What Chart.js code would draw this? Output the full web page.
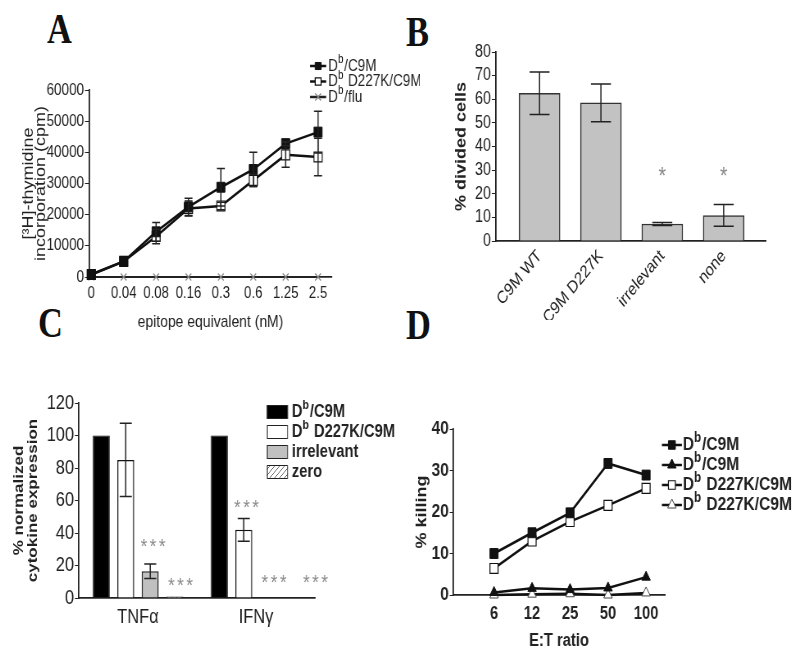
<!DOCTYPE html>
<html>
<head>
<meta charset="utf-8">
<script src="https://cdn.jsdelivr.net/npm/chart.js@4.4.0/dist/chart.umd.min.js"></script>
<style>
  body { margin: 0; background: #fff; width: 800px; height: 655px; position: relative; overflow: hidden; }
  canvas { position: absolute; }
  .letter { position: absolute; font-family: 'Liberation Serif', 'Times New Roman', serif; font-weight: bold;
            font-size: 42px; line-height: 1; color: #111; transform: scaleX(0.82); transform-origin: left top; }
</style>
</head>
<body>
<div class="letter" style="left:47px;top:8px">A</div>
<div class="letter" style="left:406px;top:11px">B</div>
<div class="letter" style="left:38px;top:302px">C</div>
<div class="letter" style="left:406px;top:304px">D</div>

<canvas id="chartA"></canvas>
<canvas id="chartB"></canvas>
<canvas id="chartC"></canvas>
<canvas id="chartD"></canvas>

<script>
"use strict";

// A - proliferation
const aDoses   = ['0', '0.04', '0.08', '0.16', '0.3', '0.6', '1.25', '2.5'];
const aYTicks  = [0, 10000, 20000, 30000, 40000, 50000, 60000];
const aC9M     = [800, 5000, 14500, 22500, 28800, 34500, 42800, 46500];
const aC9MErr  = [0, 0, 3000, 2800, 6000, 5500, 700, 6700];
const aD227K   = [800, 5000, 13000, 22000, 22800, 31000, 39200, 38500];
const aD227KErr = [0, 0, 2300, 2400, 1200, 2000, 4000, 6000];
const aFlu     = [0, 0, 0, 0, 0, 0, 0, 0];

// B - divided cells
const bCats   = ['C9M WT', 'C9M D227K', 'irrelevant', 'none'];
const bYTicks = [0, 10, 20, 30, 40, 50, 60, 70, 80];
const bValues = [62.5, 58.5, 7.2, 10.8];
const bErr    = [9, 8, 0.6, 4.6];
const bSig    = ['', '', '*', '*'];
const bSigAt  = [0, 0, 29, 29];

// C - cytokines
const cCats        = ['TNFα', 'IFNγ'];
const cYTicks      = [0, 20, 40, 60, 80, 100, 120];
const cC9M         = [100, 100];
const cD227K       = [85, 42];
const cD227KErr    = [22.5, 7];
const cD227KSig    = ['', '***'];
const cD227KSigAt  = [0, 58];
const cIrrelevant  = [16.5, 0];
const cIrrelevantErr = [4.5, 0];
const cIrrelevantSig = ['***', '***'];
const cIrrelevantSigAt = [34, 12];
const cZero        = [1, 0];
const cZeroSig     = ['***', '***'];
const cZeroSigAt   = [10, 12];

// D - killing
const dRatios    = ['6', '12', '25', '50', '100'];
const dYTicks    = [0, 10, 20, 30, 40];
const dC9M       = [10, 15, 19.8, 31.7, 28.9];
const dC9MCtrl   = [0.6, 1.6, 1.3, 1.7, 4.3];
const dD227K     = [6.4, 13, 17.7, 21.6, 25.7];
const dD227KCtrl = [0, 0.2, 0.3, 0, 0.5];

// the original figure is squeezed horizontally; draw wider and let CSS squeeze it
const K = 0.82;
const X = px => px / K;
const FONT = "'Liberation Sans', Arial, sans-serif";
const INK = '#222';

Chart.defaults.font.family = FONT;
Chart.defaults.color = INK;
Chart.defaults.animation = false;
Chart.defaults.plugins.legend.display = false;
Chart.defaults.plugins.tooltip.enabled = false;

function setupCanvas(id, left, top, w, h) {
    const c = document.getElementById(id);
    c.width = Math.round(X(w));
    c.height = h;
    c.style.left = left + 'px';
    c.style.top = top + 'px';
    c.style.width = w + 'px';
    c.style.height = h + 'px';
    return c;
}

const xy = arr => arr.map((v, i) => ({ x: i, y: v }));

// text with a superscript: "D^b/C9M"
function drawRich(ctx, text, x, y, font) {
    const parts = text.split('^');
    const base = `${font.weight} ${font.size}px ${FONT}`;
    const sup = `${font.weight} ${Math.round(font.size * 0.72)}px ${FONT}`;
    ctx.textBaseline = 'middle';
    ctx.textAlign = 'left';
    ctx.fillStyle = INK;
    parts.forEach((p, k) => {
        let rest = p;
        if (k > 0) {
            ctx.font = sup;
            ctx.fillText(p[0], x, y - font.size * 0.36);
            x += ctx.measureText(p[0]).width + 1;
            rest = p.slice(1);
        }
        ctx.font = base;
        ctx.fillText(rest, x, y);
        x += ctx.measureText(rest).width;
    });
}

const errorBars = {
    id: 'errorBars',
    afterDatasetsDraw(chart, args, o) {
        const ctx = chart.ctx;
        const ys = chart.scales.y;
        chart.data.datasets.forEach((ds, di) => {
            if (!ds.errorBars) return;
            const meta = chart.getDatasetMeta(di);
            ctx.save();
            ctx.strokeStyle = INK;
            ctx.lineWidth = o.lineWidth || 1.5;
            meta.data.forEach((el, i) => {
                const e = ds.errorBars[i];
                if (!e) return;
                const v = meta.controller.getParsed(i).y;
                const hi = ys.getPixelForValue(v + e);
                const lo = ys.getPixelForValue(v - e);
                const w = o.cap / 2;
                ctx.beginPath();
                ctx.moveTo(el.x, hi); ctx.lineTo(el.x, lo);
                ctx.moveTo(el.x - w, hi); ctx.lineTo(el.x + w, hi);
                ctx.moveTo(el.x - w, lo); ctx.lineTo(el.x + w, lo);
                ctx.stroke();
            });
            ctx.restore();
        });
    }
};

const sigMarks = {
    id: 'sigMarks',
    afterDatasetsDraw(chart, args, o) {
        const ctx = chart.ctx;
        const ys = chart.scales.y;
        chart.data.datasets.forEach((ds, di) => {
            if (!ds.sig) return;
            const meta = chart.getDatasetMeta(di);
            ctx.save();
            ctx.font = `${o.size}px ${FONT}`;
            ctx.fillStyle = '#8a8a8a';
            ctx.textAlign = 'center';
            ctx.textBaseline = 'middle';
            ctx.letterSpacing = (o.spacing || 0) + 'px';
            meta.data.forEach((el, i) => {
                if (!ds.sig[i]) return;
                const shift = (o.dx || 0) + (ds.sigShift ? ds.sigShift[i] : 0);
                ctx.fillText(ds.sig[i], el.x + shift, ys.getPixelForValue(ds.sigAt[i]) + o.size * 0.22);
            });
            ctx.restore();
        });
    }
};

const richLegend = {
    id: 'richLegend',
    afterDraw(chart, args, o) {
        const ctx = chart.ctx;
        ctx.save();
        chart.data.datasets.forEach((ds, i) => {
            const y = o.y + i * o.row;
            if (o.swatch === 'box') {
                ctx.fillStyle = ds.backgroundColor;
                ctx.fillRect(o.x, y - o.boxH / 2, o.boxW, o.boxH);
                ctx.strokeStyle = INK;
                ctx.lineWidth = 1;
                ctx.strokeRect(o.x + 0.5, y - o.boxH / 2 + 0.5, o.boxW - 1, o.boxH - 1);
            } else {
                ctx.strokeStyle = ds.borderColor;
                ctx.lineWidth = 2.5;
                ctx.beginPath();
                ctx.moveTo(o.x, y); ctx.lineTo(o.x + o.lineLen, y);
                ctx.stroke();
                ctx.fillStyle = ds.pointBackgroundColor || ds.borderColor;
                ctx.strokeStyle = ds.pointBorderColor || ds.borderColor;
                ctx.lineWidth = ds.pointBorderWidth || 1.5;
                Chart.helpers.drawPoint(ctx, { pointStyle: ds.pointStyle, radius: o.pointRadius, borderWidth: ds.pointBorderWidth || 1.5 },
                                        o.x + o.lineLen / 2, y);
            }
            drawRich(ctx, ds.label, o.x + o.textOffset, y, o.font);
        });
        ctx.restore();
    }
};

function hatchPattern(ctx) {
    const c = document.createElement('canvas');
    c.width = 6; c.height = 6;
    const g = c.getContext('2d');
    g.fillStyle = '#fff';
    g.fillRect(0, 0, 6, 6);
    g.strokeStyle = '#666';
    g.lineWidth = 1;
    g.beginPath();
    g.moveTo(0, 6); g.lineTo(6, 0);
    g.moveTo(-3, 3); g.lineTo(3, -3);
    g.moveTo(3, 9); g.lineTo(9, 3);
    g.stroke();
    return ctx.createPattern(c, 'repeat');
}

const fixedTicks = list => s => { s.ticks = list.map(v => ({ value: v })); };
const indexTicks = list => s => { s.ticks = list.map((_, i) => ({ value: i })); };
const axisBorder = { color: INK, width: 1.8 };

// ---------- A ----------
new Chart(setupCanvas('chartA', 0, 0, 420, 340), {
    type: 'line',
    data: {
        datasets: [
            { label: 'D^b/C9M', data: xy(aC9M), errorBars: aC9MErr,
              borderColor: '#111', borderWidth: 2.5, pointStyle: 'rect', pointRadius: 7,
              pointBackgroundColor: '#111', pointBorderColor: '#111', pointBorderWidth: 1 },
            { label: 'D^b D227K/C9M', data: xy(aD227K), errorBars: aD227KErr,
              borderColor: '#111', borderWidth: 2.5, pointStyle: 'rect', pointRadius: 7,
              pointBackgroundColor: '#fff', pointBorderColor: '#111', pointBorderWidth: 1.2 },
            { label: 'D^b/flu', data: xy(aFlu),
              borderColor: '#222', borderWidth: 2, pointStyle: 'crossRot', pointRadius: 5,
              pointBackgroundColor: '#888', pointBorderColor: '#888', pointBorderWidth: 1.2 }
        ]
    },
    options: {
        responsive: false,
        clip: false,
        layout: { padding: { left: 0, top: 90, right: X(88), bottom: 0 } },
        scales: {
            x: {
                type: 'linear', min: -0.07, max: 7.43,
                afterBuildTicks: indexTicks(aDoses),
                ticks: { callback: v => aDoses[v], font: { size: 16 }, padding: 7, maxRotation: 0, autoSkip: false },
                grid: { drawOnChartArea: false, drawTicks: false },
                border: axisBorder,
                title: { display: true, text: 'epitope equivalent (nM)', font: { size: 17 }, padding: { bottom: 7 } },
                afterFit: s => { s.height = 63; }
            },
            y: {
                min: 0, max: 60000,
                afterBuildTicks: fixedTicks(aYTicks),
                ticks: { callback: v => String(v), font: { size: 16.5 }, padding: 1, autoSkip: false },
                grid: { drawOnChartArea: false, tickLength: 5, color: INK },
                border: axisBorder,
                title: { display: true, text: ['[³H]-thymidine', 'incorporation (cpm)'], font: { size: 18, lineHeight: 0.85 }, padding: { top: 27 } },
                afterFit: s => { s.width = X(89); }
            }
        },
        plugins: {
            errorBars: { cap: X(8), lineWidth: 1.5 },
            richLegend: { x: X(310), y: 66, row: 15.5, lineLen: X(16), textOffset: X(18), pointRadius: 5,
                          font: { size: 16.5, weight: 'normal' } }
        }
    },
    plugins: [errorBars, richLegend]
});

// ---------- B ----------
new Chart(setupCanvas('chartB', 400, 0, 400, 320), {
    type: 'bar',
    data: {
        datasets: [
            { label: '% divided cells', data: xy(bValues), errorBars: bErr, sig: bSig, sigAt: bSigAt,
              backgroundColor: '#c2c2c2', borderColor: '#333', borderWidth: 1.5, barThickness: X(41) }
        ]
    },
    options: {
        responsive: false,
        layout: { padding: { left: 0, top: 52, right: X(34), bottom: 0 } },
        scales: {
            x: {
                type: 'linear', min: -0.71, max: 3.69, offset: false,
                afterBuildTicks: indexTicks(bCats),
                ticks: { callback: v => bCats[v], font: { size: 17.5 }, padding: 5, minRotation: 45, maxRotation: 45, autoSkip: false },
                grid: { drawOnChartArea: false, drawTicks: false },
                border: axisBorder,
                afterFit: s => { s.height = 79; }
            },
            y: {
                min: 0, max: 80,
                afterBuildTicks: fixedTicks(bYTicks),
                ticks: { font: { size: 17.5 }, padding: 1, autoSkip: false },
                grid: { drawOnChartArea: false, tickLength: 5, color: INK },
                border: axisBorder,
                title: { display: true, text: '% divided cells', font: { size: 18, weight: 'bold' }, padding: { top: 64 } },
                afterFit: s => { s.width = X(96); }
            }
        },
        plugins: {
            errorBars: { cap: X(20), lineWidth: 1.5 },
            sigMarks: { size: 24 }
        }
    },
    plugins: [errorBars, sigMarks]
});

// ---------- C ----------
const canvasC = setupCanvas('chartC', 0, 345, 400, 310);
const ctxC = canvasC.getContext('2d');
new Chart(ctxC, {
    type: 'bar',
    data: {
        labels: cCats,
        datasets: [
            { label: 'D^b/C9M', data: cC9M, backgroundColor: '#000', borderColor: '#000', borderWidth: 1 },
            { label: 'D^b D227K/C9M', data: cD227K, errorBars: cD227KErr, sig: cD227KSig, sigAt: cD227KSigAt,
              backgroundColor: '#fff', borderColor: '#111', borderWidth: 1.5 },
            { label: 'irrelevant', data: cIrrelevant, errorBars: cIrrelevantErr, sig: cIrrelevantSig, sigAt: cIrrelevantSigAt,
              sigShift: [0, X(3)],
              backgroundColor: '#c0c0c0', borderColor: '#222', borderWidth: 1.5 },
            { label: 'zero', data: cZero, sig: cZeroSig, sigAt: cZeroSigAt, sigShift: [X(3), X(20)],
              backgroundColor: hatchPattern(ctxC), borderColor: '#222', borderWidth: 1.5 }
        ]
    },
    options: {
        responsive: false,
        categoryPercentage: 0.83,
        barPercentage: 0.69,
        layout: { padding: { left: 0, top: 58, right: X(85), bottom: 0 } },
        scales: {
            x: {
                ticks: { font: { size: 20 }, padding: 7 },
                grid: { drawOnChartArea: false, drawTicks: false },
                border: axisBorder,
                afterFit: s => { s.height = 57; }
            },
            y: {
                min: 0, max: 120,
                afterBuildTicks: fixedTicks(cYTicks),
                ticks: { font: { size: 20 }, padding: 1, autoSkip: false },
                grid: { drawOnChartArea: false, tickLength: 5, color: INK },
                border: axisBorder,
                title: { display: true, text: ['% normalized', 'cytokine expression'], font: { size: 17, weight: 'bold', lineHeight: 1 }, padding: { top: 15 } },
                afterFit: s => { s.width = X(79); }
            }
        },
        plugins: {
            errorBars: { cap: X(12), lineWidth: 1.5 },
            sigMarks: { size: 21, dx: X(4), spacing: 3 },
            richLegend: { swatch: 'box', x: X(267), y: 67, row: 20, boxW: X(21), boxH: 14, textOffset: X(25),
                          font: { size: 18, weight: 'bold' } }
        }
    },
    plugins: [errorBars, sigMarks, richLegend]
});

// ---------- D ----------
new Chart(setupCanvas('chartD', 400, 345, 400, 310), {
    type: 'line',
    data: {
        datasets: [
            { label: 'D^b/C9M', data: xy(dC9M), borderColor: '#111', borderWidth: 2.5,
              pointStyle: 'rect', pointRadius: 7, pointBackgroundColor: '#111', pointBorderColor: '#111', pointBorderWidth: 1 },
            { label: 'D^b/C9M', data: xy(dC9MCtrl), borderColor: '#111', borderWidth: 2.5,
              pointStyle: 'triangle', pointRadius: 6, pointBackgroundColor: '#111', pointBorderColor: '#111', pointBorderWidth: 1 },
            { label: 'D^b D227K/C9M', data: xy(dD227K), borderColor: '#111', borderWidth: 2.5,
              pointStyle: 'rect', pointRadius: 7, pointBackgroundColor: '#fff', pointBorderColor: '#111', pointBorderWidth: 1.2 },
            { label: 'D^b D227K/C9M', data: xy(dD227KCtrl), borderColor: '#111', borderWidth: 2.5,
              pointStyle: 'triangle', pointRadius: 6, pointBackgroundColor: '#fff', pointBorderColor: '#444', pointBorderWidth: 1 }
        ]
    },
    options: {
        responsive: false,
        clip: false,
        layout: { padding: { left: 0, top: 84, right: X(135), bottom: 0 } },
        scales: {
            x: {
                type: 'linear', min: -1.08, max: 4.5,
                afterBuildTicks: indexTicks(dRatios),
                ticks: { callback: v => dRatios[v], font: { size: 18, weight: 'bold' }, padding: 8, maxRotation: 0, autoSkip: false },
                grid: { drawOnChartArea: false, drawTicks: false },
                border: axisBorder,
                title: { display: true, text: 'E:T ratio', font: { size: 18, weight: 'bold' }, padding: { bottom: 3 } },
                afterFit: s => { s.height = 60; }
            },
            y: {
                min: 0, max: 40,
                afterBuildTicks: fixedTicks(dYTicks),
                ticks: { font: { size: 19, weight: 'bold' }, padding: 1, autoSkip: false },
                grid: { drawOnChartArea: false, tickLength: 4, color: INK },
                border: axisBorder,
                title: { display: true, text: '% killing', font: { size: 18, weight: 'bold' }, padding: { top: 16 } },
                afterFit: s => { s.width = X(53); }
            }
        },
        plugins: {
            richLegend: { x: X(262), y: 100, row: 20, lineLen: X(20), textOffset: X(21), pointRadius: 6,
                          font: { size: 19, weight: 'bold' } }
        }
    },
    plugins: [richLegend]
});
</script>
</body>
</html>
